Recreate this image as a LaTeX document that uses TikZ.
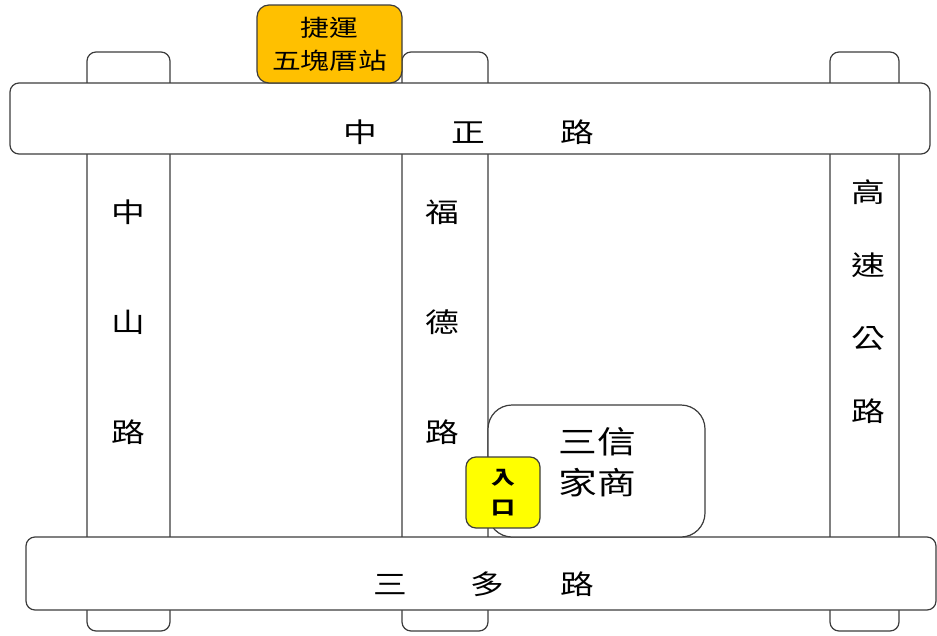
\documentclass[tikz,border=0pt]{standalone}
\usepackage{fontspec}
\newfontfamily\cjk[FakeStretch=1.25]{Noto Sans CJK TC}
\usetikzlibrary{positioning}

\definecolor{mrtorange}{RGB}{255,192,0}
\definecolor{gateyellow}{RGB}{255,255,0}
\definecolor{edgegray}{RGB}{60,60,60}

\tikzset{
	road/.style={rectangle, draw=edgegray, line width=1.2pt, fill=white, rounded corners=9pt, inner sep=0pt, outer sep=0pt},
	roadlabel/.style={font=\cjk\fontsize{27}{110}\selectfont, align=center, inner sep=0pt},
}

\begin{document}
\begin{tikzpicture}[x=1pt, y=-1pt]
	\useasboundingbox (0,0) rectangle (937,635);

	% vertical roads
	\node[road, minimum width=83pt, minimum height=579pt] (zhongshan) at (128.5,341.5) {};
	\node[road, minimum width=86pt, minimum height=579pt] (fude) at (445,341.5) {};
	\node[road, minimum width=69pt, minimum height=579pt] (gaosu) at (864.5,341.5) {};

	% horizontal roads
	\node[road, minimum width=920pt, minimum height=71pt] (zhongzheng) at (470,118.5) {};
	\node[road, minimum width=910pt, minimum height=73pt] (sanduo) at (481,573.5) {};

	% road names
	\node[roadlabel] (zhongzhengtxt) at (469,132) {中\hspace{74pt}正\hspace{76pt}路};
	\node[roadlabel] (sanduotxt) at (484,584) {三\hspace{63pt}多\hspace{57pt}路};
	\node[roadlabel] (zhongshantxt) at (128,322) {中\\山\\路};
	\node[roadlabel] (fudetxt) at (442,322) {福\\德\\路};
	\node[roadlabel, font=\cjk\fontsize{27}{73}\selectfont] (gaosutxt) at (868,302) {高\\速\\公\\路};

	% MRT station
	\node[rectangle, draw=edgegray, line width=1.2pt, fill=mrtorange, rounded corners=12pt, minimum width=145pt, minimum height=78pt, inner sep=0pt, align=center, font=\cjk\fontsize{23}{33}\selectfont] (mrt) at (329.5,44) {捷運\\五塊厝站};

	% school
	\node[rectangle, draw=edgegray, line width=1.2pt, fill=white, rounded corners=24pt, minimum width=217pt, minimum height=132pt, inner sep=0pt] (school) at (596.5,471) {};
	\node[align=center, inner sep=0pt, font=\cjk\fontsize{31}{41}\selectfont] (schooltxt) at (597,462) {三信\\家商};

	% entrance
	\node[rectangle, draw=edgegray, line width=1.2pt, fill=gateyellow, rounded corners=10pt, minimum width=74pt, minimum height=71pt, inner sep=0pt, align=center, font=\cjk\bfseries\fontsize{19}{30}\selectfont] (entrance) at (503,492.5) {入\\口};
\end{tikzpicture}
\end{document}
